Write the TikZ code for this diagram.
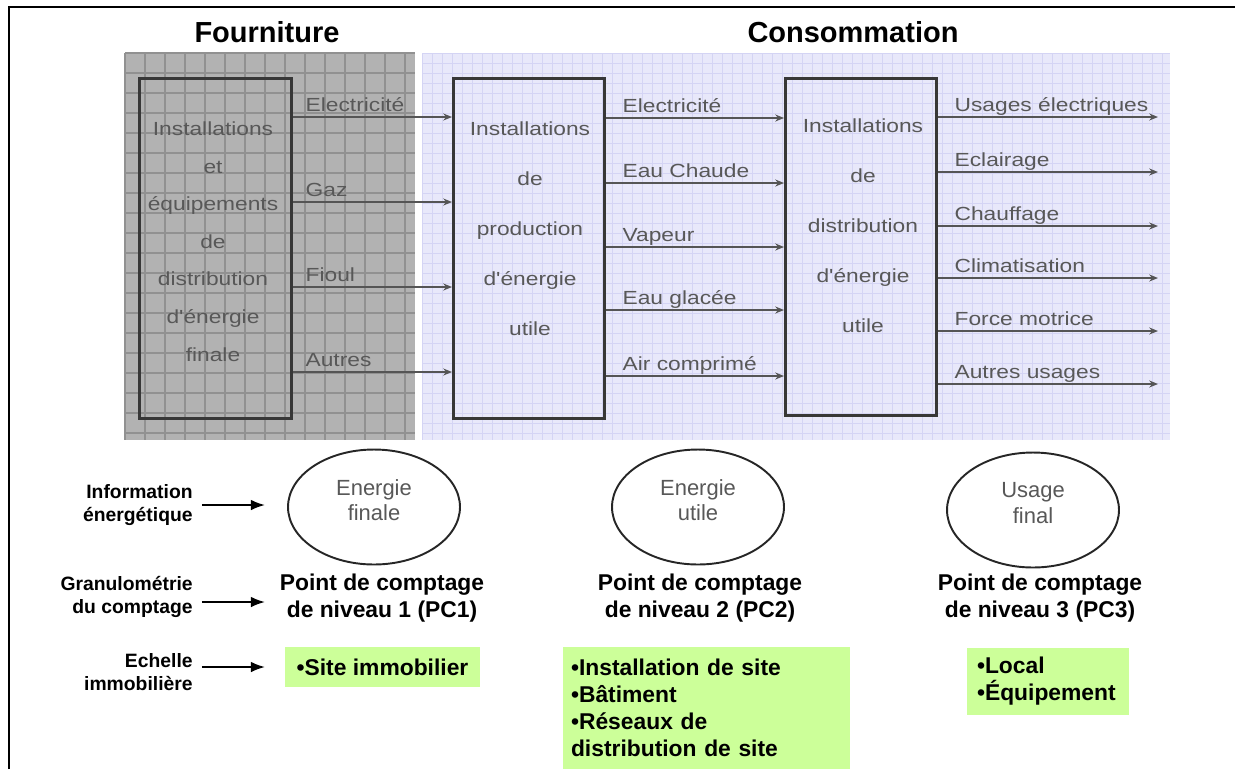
\documentclass[tikz,border=0pt]{standalone}
\usepackage{fontspec}
\setmainfont{Liberation Sans}
\newfontfamily\wideft[FakeStretch=1.2]{Liberation Sans}
\usetikzlibrary{arrows.meta,positioning,shapes.geometric}
\definecolor{srcgray}{RGB}{178,178,178}
\definecolor{srcgrid}{RGB}{145,145,145}
\definecolor{conslav}{RGB}{232,232,250}
\definecolor{consgrid}{RGB}{212,212,244}
\definecolor{boxedge}{RGB}{55,55,55}
\definecolor{flowgray}{RGB}{85,85,85}
\definecolor{txtgray}{RGB}{88,88,88}
\definecolor{pcgreen}{RGB}{204,255,153}
\tikzset{
  title/.style={font=\bfseries\fontsize{16.5}{18}\selectfont,inner sep=0pt},
  instbox/.style={rectangle,draw=boxedge,line width=1.7pt,inner sep=0pt},
  insttxt/.style={font=\wideft\fontsize{10.8}{#1}\selectfont,text=txtgray,
                  align=center,inner sep=0pt},
  insttxt/.default=21.4,
  flow/.style={-{Stealth[length=5pt,width=4pt]},line width=0.75pt,flowgray},
  flowlbl/.style={font=\wideft\fontsize{10.8}{13}\selectfont,text=txtgray,
                  anchor=base west,inner sep=0pt,yshift=3pt},
  level/.style={ellipse,draw=black!85,line width=1.1pt,minimum width=3.44cm,
                minimum height=2.3cm,inner sep=0pt,align=center,text=txtgray,
                text depth=8pt,font=\fontsize{12.5}{14.7}\selectfont},
  pctxt/.style={font=\bfseries\fontsize{13}{15.3}\selectfont,align=center,
                inner sep=0pt},
  sidelbl/.style={font=\bfseries\fontsize{11}{12.8}\selectfont,align=right,
                  anchor=east,inner sep=0pt},
  blk/.style={-{Latex[length=8pt,width=6pt]},line width=1pt,black},
  greenbox/.style={rectangle,fill=pcgreen,inner sep=0pt,
                   font=\bfseries\fontsize{13}{15.3}\selectfont},
}
\begin{document}
\begin{tikzpicture}[x=0.02cm,y=-0.02cm]
  \useasboundingbox (0,0) rectangle (1235,769);

  % frame
  \draw[line width=1pt] (9,769) |- (1235,7);

  % backgrounds
  \fill[srcgray] (125,53) rectangle (415,440);
  \foreach \gx in {125,145,...,415} \draw[srcgrid,line width=0.6pt] (\gx,53) -- (\gx,440);
  \foreach \gy in {53,73,...,440} \draw[srcgrid,line width=0.6pt] (125,\gy) -- (415,\gy);
  \fill[conslav] (422,53) rectangle (1170,440);
  \foreach \gx in {422,432,...,1170} \draw[consgrid,line width=0.3pt] (\gx,53) -- (\gx,440);
  \foreach \gy in {53,63,...,440} \draw[consgrid,line width=0.3pt] (422,\gy) -- (1170,\gy);

  \node[title] (fourn) at (267,32) {Fourniture};
  \node[title] (conso) at (853,32) {Consommation};

  % installations
  \node[instbox,minimum width=3.04cm,minimum height=6.8cm] (src) at (215.5,248.5) {};
  \node[instbox,minimum width=3.02cm,minimum height=6.8cm] (prod) at (529,248.5) {};
  \node[instbox,minimum width=3.02cm,minimum height=6.74cm] (dist) at (861,247) {};

  \node[insttxt] (srctxt) at (213,241.5)
    {Installations\\et\\équipements\\de\\distribution\\d'énergie\\finale};
  \node[insttxt=28.4] (prodtxt) at (530,228.5)
    {Installations\\de\\production\\d'énergie\\utile};
  \node[insttxt=28.4] (disttxt) at (863,226)
    {Installations\\de\\distribution\\d'énergie\\utile};

  \foreach \lab/\y [count=\i] in {Electricité/117,Gaz/202,Fioul/287,Autres/372}{
    \coordinate (fin\i) at (0,\y);
    \draw[flow] (src.east |- fin\i) -- node[flowlbl,at start,xshift=0.24cm]{\lab}
      (prod.west |- fin\i);
  }
  \foreach \lab/\y [count=\i] in {Electricité/118,Eau Chaude/183,Vapeur/247,
                                  Eau glacée/310,Air comprimé/376}{
    \coordinate (util\i) at (0,\y);
    \draw[flow] (prod.east |- util\i) -- node[flowlbl,at start,xshift=0.32cm]{\lab}
      (dist.west |- util\i);
  }
  \foreach \lab/\y [count=\i] in {Usages électriques/117,Eclairage/172,Chauffage/226,
                                  Climatisation/278,Force motrice/331,Autres usages/384}{
    \coordinate (use\i) at (1158,\y);
    \draw[flow] (dist.east |- use\i) -- node[flowlbl,at start,xshift=0.32cm]{\lab}
      (use\i);
  }

  % counting levels
  \node[level] (efin) at (374,507) {Energie\\finale};
  \node[level] (eutil) at (698,507) {Energie\\utile};
  \node[level] (ufin) at (1033,510) {Usage\\final};

  \node[pctxt] (pc1) at (382,598) {Point de comptage\\de niveau 1 (PC1)};
  \node[pctxt] (pc2) at (700,598) {Point de comptage\\de niveau 2 (PC2)};
  \node[pctxt] (pc3) at (1040,598) {Point de comptage\\de niveau 3 (PC3)};

  \node[greenbox,minimum width=3.9cm,minimum height=0.8cm,align=center]
    (scale1) at (382.5,667) {•Site immobilier};
  \node[greenbox,minimum width=5.74cm,minimum height=2.44cm,text width=5.42cm,align=left]
    (scale2) at (706.5,708) {•Installation de site\\•Bâtiment\\•Réseaux de\\distribution de site};
  \node[greenbox,minimum width=3.24cm,minimum height=1.34cm,text width=2.84cm,align=left]
    (scale3) at (1048,681.5) {•Local\\•Équipement};

  % row captions
  \node[sidelbl] (info) at (193,505) {Information\\énergétique};
  \node[sidelbl] (gran) at (193,597) {Granulométrie\\du comptage};
  \node[sidelbl] (echl) at (193,672) {Echelle\\immobilière};

  \coordinate (tip1) at (265,505);
  \coordinate (tip2) at (265,602);
  \coordinate (tip3) at (265,667);
  \draw[blk,shorten <=0.18cm] (info.east |- tip1) -- (tip1);
  \draw[blk,shorten <=0.18cm] (gran.east |- tip2) -- (tip2);
  \draw[blk,shorten <=0.18cm] (echl.east |- tip3) -- (tip3);

\end{tikzpicture}
\end{document}
